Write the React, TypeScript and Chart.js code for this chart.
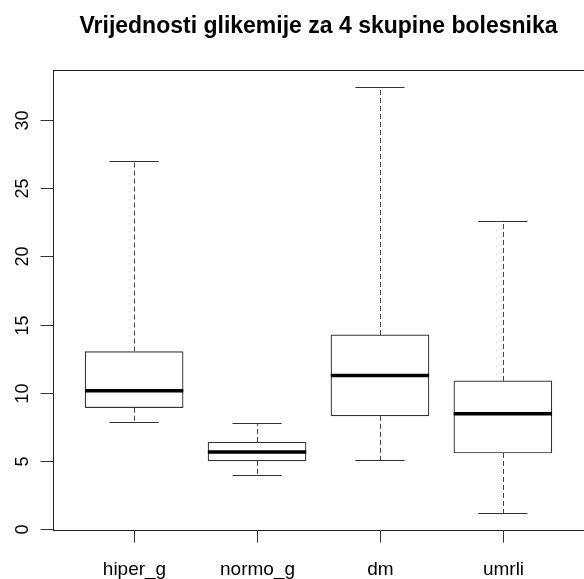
import React, { useEffect, useRef } from "react";
import { Chart, registerables } from "chart.js";

Chart.register(...registerables);

const categories = ["hiper_g", "normo_g", "dm", "umrli"];
const lowerWhisker = [7.88, 3.99, 5.09, 1.21];
const q1 = [8.92, 5.02, 8.32, 5.6];
const median = [10.17, 5.68, 11.27, 8.48];
const q3 = [13.03, 6.39, 14.25, 10.88];
const upperWhisker = [27.02, 7.8, 32.4, 22.62];
const yTicks = [0, 5, 10, 15, 20, 25, 30];
const title = "Vrijednosti glikemije za 4 skupine bolesnika";

const FONT = "'Liberation Sans', Arial, sans-serif";

const boxPlugin = {
  id: "boxExtras",
  afterDatasetsDraw(chart: any) {
    const ctx = chart.ctx as CanvasRenderingContext2D;
    const xs = chart.scales.x;
    const ys = chart.scales.y;
    const area = chart.chartArea;
    const snap = (v: number) => Math.round(v) + 0.5;
    ctx.save();

    categories.forEach((_, i) => {
      const cx = xs.getPixelForValue(i + 1);
      const halfBox = xs.getPixelForValue(i + 1.4) - cx;
      const halfCap = halfBox / 2;
      const xc = snap(cx);
      // whiskers
      ctx.strokeStyle = "#444";
      ctx.lineWidth = 1;
      ctx.setLineDash([5, 3]);
      ctx.beginPath();
      ctx.moveTo(xc, ys.getPixelForValue(q3[i]));
      ctx.lineTo(xc, ys.getPixelForValue(upperWhisker[i]));
      ctx.moveTo(xc, ys.getPixelForValue(q1[i]));
      ctx.lineTo(xc, ys.getPixelForValue(lowerWhisker[i]));
      ctx.stroke();
      ctx.setLineDash([]);
      // caps
      ctx.strokeStyle = "#333";
      ctx.beginPath();
      const yu = snap(ys.getPixelForValue(upperWhisker[i]));
      const yl = snap(ys.getPixelForValue(lowerWhisker[i]));
      ctx.moveTo(cx - halfCap, yu);
      ctx.lineTo(cx + halfCap, yu);
      ctx.moveTo(cx - halfCap, yl);
      ctx.lineTo(cx + halfCap, yl);
      ctx.stroke();
      // median
      ctx.strokeStyle = "#000";
      ctx.lineWidth = 3.5;
      ctx.beginPath();
      const ym = ys.getPixelForValue(median[i]);
      ctx.moveTo(cx - halfBox, ym);
      ctx.lineTo(cx + halfBox, ym);
      ctx.stroke();
    });

    // frame
    ctx.strokeStyle = "#222";
    ctx.lineWidth = 1;
    ctx.strokeRect(snap(area.left), snap(area.top), Math.round(area.right - area.left) + 2, Math.round(area.bottom - area.top));

    // y axis ticks and labels
    ctx.fillStyle = "#000";
    ctx.font = `18px ${FONT}`;
    ctx.strokeStyle = "#333";
    yTicks.forEach((t) => {
      const y = snap(ys.getPixelForValue(t));
      ctx.beginPath();
      ctx.moveTo(area.left - 12.5, y);
      ctx.lineTo(area.left, y);
      ctx.stroke();
      ctx.save();
      ctx.translate(area.left - 25, y);
      ctx.rotate(-Math.PI / 2);
      ctx.textAlign = "center";
      ctx.textBaseline = "alphabetic";
      ctx.fillText(String(t), 0, 0);
      ctx.restore();
    });

    // x axis ticks and labels
    ctx.font = `19px ${FONT}`;
    ctx.textAlign = "center";
    ctx.textBaseline = "alphabetic";
    categories.forEach((c, i) => {
      const x = snap(xs.getPixelForValue(i + 1));
      ctx.beginPath();
      ctx.moveTo(x, area.bottom);
      ctx.lineTo(x, area.bottom + 12.5);
      ctx.stroke();
      ctx.fillText(c, x, area.bottom + 45);
    });

    // title
    ctx.font = `bold 23px ${FONT}`;
    ctx.fillText(title, (area.left + area.right) / 2, 33);
    ctx.restore();
  },
};

export default function App() {
  const ref = useRef<HTMLCanvasElement>(null);
  useEffect(() => {
    document.body.style.margin = "0";
    const canvas = ref.current!;
    const chart = new Chart(canvas, {
      type: "bar",
      data: {
        datasets: [
          {
            data: categories.map((_, i) => ({ x: i + 1, y: [q1[i], q3[i]] })) as any,
            backgroundColor: "#ffffff",
            borderColor: "#333",
            borderWidth: 1.2,
            borderSkipped: false,
            barThickness: 98,
          },
        ],
      },
      options: {
        animation: false,
        responsive: false,
        devicePixelRatio: 1,
        layout: { padding: { left: 53, right: 0, top: 70, bottom: 49 } },
        scales: {
          x: { type: "linear", min: 0.34, max: 4.66, offset: false, display: false },
          y: { type: "linear", min: -0.04, max: 33.66, display: false },
        },
        plugins: { legend: { display: false }, tooltip: { enabled: false }, title: { display: false } },
      },
      plugins: [boxPlugin],
    });
    return () => chart.destroy();
  }, []);
  return (
    <div style={{ width: 584, height: 579, background: "#fff" }}>
      <canvas ref={ref} width={584} height={579} style={{ display: "block" }} />
    </div>
  );
}
